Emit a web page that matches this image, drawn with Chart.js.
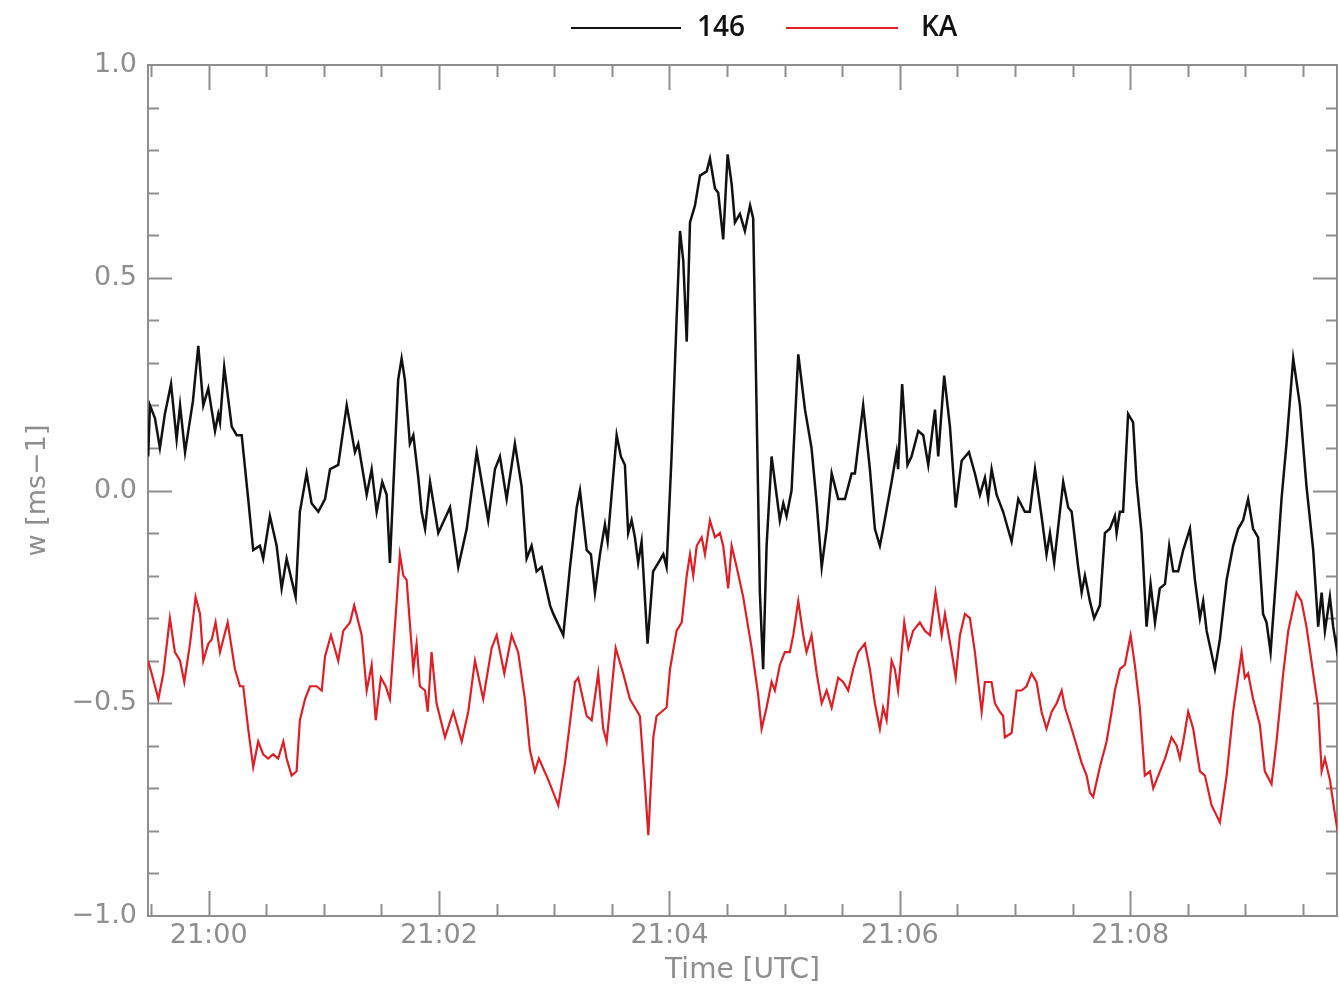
<!DOCTYPE html>
<html>
<head>
<meta charset="utf-8">
<title>w 146 vs KA</title>
<script src="https://cdn.jsdelivr.net/npm/chart.js@4.4.0/dist/chart.umd.min.js"></script>
<style>
    html, body { margin: 0; padding: 0; background: #fff; }
    canvas { display: block; }
</style>
</head>
<body>
<canvas id="wChart" width="1339" height="993"></canvas>
<script>
// time in seconds after 21:00:00 UTC, w in m/s
const t146 = [-31.5,-30.6,-28.0,-25.4,-22.8,-19.6,-16.7,-14.9,-12.3,-10.6,
    -8.2,-5.4,-2.8,-0.2,3.3,5.0,5.9,8.1,12.0,14.6,
    17.2,20.6,23.2,26.7,28.4,31.9,35.4,38.0,40.6,43.2,
    45.3,47.5,51.0,53.6,57.1,60.6,63.2,67.5,71.9,76.2,
    77.9,82.3,84.9,87.5,90.4,92.7,94.4,98.7,100.5,102.2,
    104.8,106.6,109.2,110.9,112.7,115.3,119.6,125.7,130.0,134.4,
    139.6,145.6,149.1,151.7,155.2,159.5,163.0,165.6,168.2,170.8,
    173.4,177.8,179.5,184.7,188.2,191.7,193.4,196.9,199.1,201.2,
    203.8,206.4,207.8,212.5,214.7,216.8,218.5,220.3,222.0,223.7,
    225.5,228.6,231.5,234.2,236.8,238.5,241.1,243.7,245.5,247.2,
    249.0,250.7,253.3,255.9,259.4,261.1,263.7,265.4,268.0,270.3,
    272.4,274.1,276.7,279.3,282.0,283.6,285.4,287.1,288.8,290.6,
    293.2,295.8,297.5,299.3,301.0,303.6,307.1,310.6,314.0,316.7,
    319.3,321.9,324.5,327.9,331.4,334.9,336.6,340.9,344.4,347.0,
    349.6,351.3,355.7,358.3,359.1,361.2,364.0,366.1,369.6,372.2,
    374.8,378.3,380.0,383.1,386.1,389.1,392.2,396.0,399.1,401.7,
    404.3,406.0,407.8,410.4,413.8,418.2,421.7,425.1,427.7,430.4,
    433.8,436.4,438.2,440.4,445.1,447.7,449.5,452.9,454.7,456.4,
    459.0,461.2,464.2,466.8,469.4,472.0,472.9,474.6,476.3,478.9,
    481.5,483.3,485.9,488.5,490.6,492.9,495.4,498.1,500.3,502.4,
    505.0,507.6,511.1,513.7,516.3,518.0,519.8,524.1,526.7,530.2,
    533.6,536.2,538.8,541.4,544.0,546.6,549.2,551.0,553.1,556.2,
    558.8,561.4,564.9,568.4,571.8,575.3,577.9,579.7,581.4,584.0,
    585.7,587.5,588.7];
const w146 = [0.08,0.20,0.17,0.10,0.18,0.25,0.12,0.20,0.09,0.14,
    0.21,0.34,0.20,0.24,0.14,0.18,0.16,0.29,0.15,0.13,
    0.13,-0.02,-0.14,-0.13,-0.16,-0.06,-0.13,-0.23,-0.16,-0.21,
    -0.25,-0.05,0.04,-0.03,-0.05,-0.02,0.05,0.06,0.20,0.09,
    0.11,-0.01,0.05,-0.05,0.02,-0.01,-0.17,0.26,0.31,0.26,
    0.11,0.13,0.03,-0.05,-0.09,0.02,-0.10,-0.04,-0.18,-0.09,
    0.09,-0.07,0.05,0.08,-0.02,0.11,0.01,-0.16,-0.13,-0.19,
    -0.18,-0.27,-0.29,-0.34,-0.18,-0.04,0.00,-0.14,-0.15,-0.24,
    -0.15,-0.08,-0.12,0.13,0.08,0.06,-0.10,-0.07,-0.11,-0.17,
    -0.12,-0.36,-0.19,-0.17,-0.15,-0.18,0.08,0.40,0.61,0.54,
    0.35,0.63,0.67,0.74,0.75,0.78,0.71,0.70,0.59,0.79,
    0.72,0.63,0.65,0.61,0.67,0.64,0.19,-0.24,-0.42,-0.13,
    0.08,-0.01,-0.07,-0.03,-0.06,0.00,0.32,0.19,0.10,-0.03,
    -0.18,-0.09,0.04,-0.02,-0.02,0.04,0.04,0.20,0.05,-0.09,
    -0.13,-0.09,0.02,0.09,0.05,0.25,0.06,0.08,0.14,0.13,
    0.06,0.19,0.08,0.27,0.15,-0.04,0.07,0.09,0.04,-0.01,
    0.03,-0.02,0.05,-0.01,-0.05,-0.12,-0.02,-0.05,-0.05,0.05,
    -0.06,-0.15,-0.10,-0.17,0.02,-0.04,-0.05,-0.18,-0.24,-0.20,
    -0.26,-0.30,-0.27,-0.10,-0.09,-0.06,-0.10,-0.05,-0.05,0.18,
    0.16,0.02,-0.10,-0.32,-0.22,-0.31,-0.23,-0.22,-0.13,-0.19,
    -0.19,-0.14,-0.09,-0.21,-0.30,-0.26,-0.33,-0.42,-0.35,-0.21,
    -0.13,-0.09,-0.07,-0.02,-0.09,-0.11,-0.29,-0.31,-0.38,-0.19,
    -0.02,0.11,0.31,0.20,0.01,-0.14,-0.32,-0.24,-0.33,-0.25,
    -0.32,-0.37,-0.32];

const tKA = [-31.6,-29.7,-26.2,-23.6,-20.2,-17.6,-14.9,-12.7,-9.7,-6.8,
    -4.5,-2.8,-0.2,1.6,3.6,5.9,7.6,9.9,13.7,16.3,
    18.0,20.6,23.2,25.8,28.4,31.0,33.6,36.2,38.9,40.6,
    43.2,45.8,47.5,50.2,52.8,56.2,58.9,60.6,63.7,67.5,
    70.1,73.6,75.8,79.7,82.3,84.9,87.0,89.7,92.2,94.4,
    99.6,101.4,103.1,106.6,108.3,110.0,112.7,114.1,116.1,118.7,
    123.1,127.4,131.8,135.2,138.7,143.0,147.4,150.0,154.0,157.8,
    161.2,164.7,167.3,169.9,172.0,176.9,182.1,185.6,190.8,192.5,
    196.9,199.5,202.9,205.5,207.3,212.0,215.9,219.4,222.0,224.6,
    227.2,229.0,231.6,233.3,235.9,238.5,240.3,243.7,246.4,249.0,
    250.7,252.4,254.2,256.8,258.5,261.1,263.7,266.3,268.0,270.6,
    272.4,275.0,278.4,282.8,286.2,288.0,290.6,293.2,294.9,297.5,
    300.1,302.7,304.5,307.1,309.7,311.4,314.0,316.7,319.3,321.9,
    324.5,327.9,330.5,333.1,335.7,338.3,341.8,344.4,347.0,349.6,
    351.3,353.1,355.7,357.4,359.1,362.3,364.4,366.9,370.4,373.1,
    375.7,378.6,381.8,383.5,387.0,389.1,391.3,393.9,396.5,399.1,
    402.6,404.3,407.8,409.5,412.1,413.8,414.7,418.2,420.8,423.4,
    426.0,428.6,431.2,433.8,436.4,439.1,441.7,444.3,446.0,449.5,
    452.1,454.7,457.3,459.0,460.7,464.2,467.7,470.3,472.0,474.6,
    477.2,480.2,482.4,485.0,487.6,490.3,492.0,494.6,498.1,501.5,
    504.2,505.9,507.6,510.2,512.8,516.3,518.9,522.4,526.7,530.2,
    533.6,538.0,539.7,541.4,544.0,547.5,550.1,553.6,556.2,559.7,
    562.3,566.6,569.2,571.8,575.3,577.9,579.7,581.4,584.0,586.6,
    588.7];
const wKA = [-0.40,-0.43,-0.49,-0.43,-0.30,-0.38,-0.40,-0.45,-0.36,-0.25,
    -0.29,-0.40,-0.36,-0.35,-0.31,-0.38,-0.35,-0.31,-0.42,-0.46,
    -0.46,-0.56,-0.65,-0.59,-0.62,-0.63,-0.62,-0.63,-0.59,-0.63,
    -0.67,-0.66,-0.54,-0.49,-0.46,-0.46,-0.47,-0.39,-0.34,-0.40,
    -0.33,-0.31,-0.27,-0.34,-0.47,-0.41,-0.54,-0.44,-0.46,-0.49,
    -0.15,-0.20,-0.21,-0.42,-0.36,-0.46,-0.47,-0.52,-0.38,-0.50,
    -0.58,-0.52,-0.59,-0.52,-0.40,-0.49,-0.37,-0.34,-0.43,-0.34,
    -0.38,-0.49,-0.61,-0.66,-0.63,-0.68,-0.74,-0.64,-0.45,-0.44,
    -0.53,-0.54,-0.43,-0.56,-0.59,-0.37,-0.43,-0.49,-0.51,-0.53,
    -0.69,-0.81,-0.58,-0.53,-0.52,-0.51,-0.42,-0.33,-0.31,-0.20,
    -0.15,-0.20,-0.13,-0.11,-0.15,-0.07,-0.11,-0.10,-0.13,-0.23,
    -0.13,-0.18,-0.25,-0.37,-0.48,-0.56,-0.51,-0.45,-0.47,-0.41,
    -0.38,-0.38,-0.34,-0.26,-0.34,-0.38,-0.34,-0.43,-0.50,-0.47,
    -0.51,-0.44,-0.45,-0.47,-0.42,-0.38,-0.36,-0.42,-0.50,-0.56,
    -0.51,-0.54,-0.40,-0.42,-0.47,-0.31,-0.37,-0.33,-0.31,-0.33,
    -0.34,-0.24,-0.34,-0.29,-0.38,-0.44,-0.34,-0.29,-0.30,-0.38,
    -0.52,-0.45,-0.45,-0.50,-0.52,-0.53,-0.58,-0.57,-0.47,-0.47,
    -0.46,-0.43,-0.45,-0.52,-0.56,-0.52,-0.50,-0.47,-0.51,-0.56,
    -0.60,-0.64,-0.67,-0.71,-0.72,-0.65,-0.59,-0.52,-0.47,-0.42,
    -0.41,-0.34,-0.41,-0.51,-0.67,-0.66,-0.70,-0.67,-0.63,-0.58,
    -0.60,-0.63,-0.59,-0.52,-0.56,-0.66,-0.67,-0.74,-0.78,-0.67,
    -0.52,-0.38,-0.44,-0.43,-0.49,-0.55,-0.66,-0.69,-0.59,-0.43,
    -0.33,-0.24,-0.26,-0.32,-0.43,-0.51,-0.66,-0.63,-0.68,-0.76,
    -0.82];

const seriesNames = ['146', 'KA'];
const xTickSecs = [0, 120, 240, 360, 480];
const xTickLabels = ['21:00', '21:02', '21:04', '21:06', '21:08'];
const yTickVals = [-1, -0.5, 0, 0.5, 1];
const yTickLabels = ['\u22121.0', '\u22120.5', '0.0', '0.5', '1.0'];

const axisGray = '#8e8e8e';
const labelFont = { family: 'DejaVu Sans', size: 27 };

// IDL style frame: box with inward ticks on all four sides
const frameTicks = {
    id: 'frameTicks',
    beforeDatasetsDraw(chart) {
        const { ctx, chartArea: a, scales: { x, y } } = chart;
        ctx.save();
        ctx.strokeStyle = axisGray;
        ctx.lineWidth = 2;
        ctx.strokeRect(a.left, a.top, a.right - a.left, a.bottom - a.top);
        ctx.beginPath();
        for (let s = -30; s <= x.max; s += 30) {
            const px = Math.round(x.getPixelForValue(s)) + 0.5;
            const len = s % 120 === 0 ? 25 : 12;
            ctx.moveTo(px, a.bottom); ctx.lineTo(px, a.bottom - len);
            ctx.moveTo(px, a.top); ctx.lineTo(px, a.top + len);
        }
        for (let k = -9; k <= 9; k++) {
            const py = Math.round(y.getPixelForValue(k / 10)) + 0.5;
            const len = k % 5 === 0 ? 24 : 11;
            ctx.moveTo(a.left, py); ctx.lineTo(a.left + len, py);
            ctx.moveTo(a.right, py); ctx.lineTo(a.right - len, py);
        }
        ctx.stroke();
        ctx.restore();
    }
};

// legend drawn above the frame, offset right like the original
const lineLegend = {
    id: 'lineLegend',
    afterDraw(chart) {
        const ctx = chart.ctx;
        const slots = [{ x0: 571, x1: 681, tx: 697 }, { x0: 786, x1: 898, tx: 921 }];
        ctx.save();
        ctx.font = '600 28px "Open Sans"';
        ctx.textBaseline = 'middle';
        chart.data.datasets.forEach((ds, i) => {
            const s = slots[i];
            ctx.strokeStyle = ds.borderColor;
            ctx.lineWidth = 2;
            ctx.beginPath();
            ctx.moveTo(s.x0, 28);
            ctx.lineTo(s.x1, 28);
            ctx.stroke();
            ctx.fillStyle = '#111';
            ctx.fillText(ds.label, s.tx, 28);
        });
        ctx.restore();
    }
};

new Chart(document.getElementById('wChart'), {
    type: 'line',
    data: {
        datasets: [
            {
                label: seriesNames[0],
                data: t146.map((t, i) => ({ x: t, y: w146[i] })),
                borderColor: '#111111',
                borderWidth: 2.5,
                pointRadius: 0,
                tension: 0
            },
            {
                label: seriesNames[1],
                data: tKA.map((t, i) => ({ x: t, y: wKA[i] })),
                borderColor: '#e01e26',
                borderWidth: 2.2,
                pointRadius: 0,
                tension: 0
            }
        ]
    },
    options: {
        responsive: false,
        animation: false,
        devicePixelRatio: 1,
        layout: { padding: { top: 65, right: 2, left: 0, bottom: 0 } },
        plugins: {
            legend: { display: false },
            tooltip: { enabled: false }
        },
        scales: {
            x: {
                type: 'linear',
                min: -31.6,
                max: 587.7,
                grid: { display: false, drawTicks: false },
                border: { display: false },
                afterBuildTicks: s => { s.ticks = xTickSecs.map(v => ({ value: v })); },
                afterFit: s => { s.height = 77; },
                ticks: {
                    autoSkip: false,
                    maxRotation: 0,
                    padding: 4,
                    color: axisGray,
                    font: labelFont,
                    callback: v => xTickLabels[xTickSecs.indexOf(v)]
                },
                title: {
                    display: true,
                    text: 'Time [UTC]',
                    color: axisGray,
                    font: { family: 'DejaVu Sans', size: 28 },
                    padding: { top: 0, bottom: 5 }
                }
            },
            y: {
                min: -1,
                max: 1,
                grid: { display: false, drawTicks: false },
                border: { display: false },
                afterBuildTicks: s => { s.ticks = yTickVals.map(v => ({ value: v })); },
                afterFit: s => { s.width = 148; },
                ticks: {
                    padding: 11,
                    color: axisGray,
                    font: labelFont,
                    callback: v => yTickLabels[yTickVals.indexOf(v)]
                },
                title: {
                    display: true,
                    text: 'w [ms\u22121]',
                    color: axisGray,
                    font: { family: 'DejaVu Sans', size: 27 },
                    padding: { top: 22, bottom: 0 }
                }
            }
        }
    },
    plugins: [frameTicks, lineLegend]
});
</script>
</body>
</html>
